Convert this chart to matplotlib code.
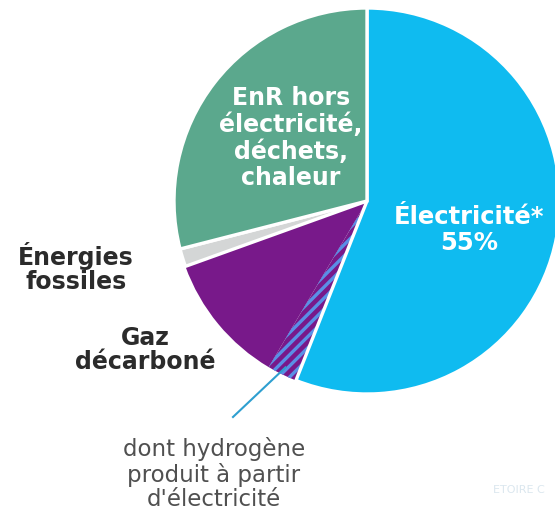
import numpy as np
import matplotlib.pyplot as plt
from matplotlib.patches import Wedge

# parts of final energy use (%), clockwise from the top
labels = ["Électricité*", "dont hydrogène", "Gaz décarboné", "Énergies fossiles", "EnR hors électricité"]
values = [56, 2.5, 11, 1.5, 29]
colors = ["#0fbbf0", "#78198a", "#78198a", "#d4d6d6", "#5ba88d"]
elec_share = "55%"

plt.rcParams['hatch.linewidth'] = 2.4

fig = plt.figure(figsize=(5.55, 5.15), dpi=100)
ax = fig.add_axes([0, 0, 1, 1])

wedges, _ = ax.pie(values, colors=colors, startangle=90, counterclock=False,
                   center=(367, 314), radius=193,
                   wedgeprops=dict(edgecolor='white', linewidth=2.4))
ax.set_xlim(0, 555)
ax.set_ylim(0, 515)
ax.set_aspect('equal')
ax.axis('off')

# gas + hydrogen share one purple area, no white line between them
for i in (1, 2):
    wedges[i].set_linewidth(0)
    wedges[i].set_zorder(2)
for i in (0, 3, 4):
    wedges[i].set_zorder(3)

# hatched hydrogen part
h2 = wedges[1]
ax.add_patch(Wedge(h2.center, h2.r, h2.theta1, h2.theta2, facecolor='none',
                   edgecolor='#5a8fe6', hatch='///', linewidth=0, zorder=2.5))

ax.text(291, 377, "EnR hors\nélectricité,\ndéchets,\nchaleur", ha='center', va='center',
        color='white', fontsize=17, fontweight='bold', linespacing=1.12)
ax.text(469, 285, labels[0] + "\n" + elec_share, ha='center', va='center',
        color='white', fontsize=17.5, fontweight='bold', linespacing=1.15)
ax.text(76, 247, "Énergies\nfossiles", ha='center', va='center',
        color='#2b2b2b', fontsize=17, fontweight='bold', linespacing=1.05)
ax.text(145, 165, "Gaz\ndécarboné", ha='center', va='center',
        color='#2b2b2b', fontsize=17, fontweight='bold', linespacing=1.05)
ax.text(214, 41, "dont hydrogène\nproduit à partir\nd'électricité", ha='center', va='center',
        color='#505050', fontsize=16.5, linespacing=1.1)

# leader line to hydrogen slice
mid = np.deg2rad((h2.theta1 + h2.theta2) / 2)
tip = (h2.center[0] + 0.96 * h2.r * np.cos(mid), h2.center[1] + 0.96 * h2.r * np.sin(mid))
ax.plot([233, tip[0]], [98, tip[1]], color='#2e9fd0', linewidth=1.5, zorder=4)

ax.text(519, 25, "ETOIRE C", ha='center', va='center', color='#dbe7ef', fontsize=8)

fig.savefig("out.png", dpi=100)
